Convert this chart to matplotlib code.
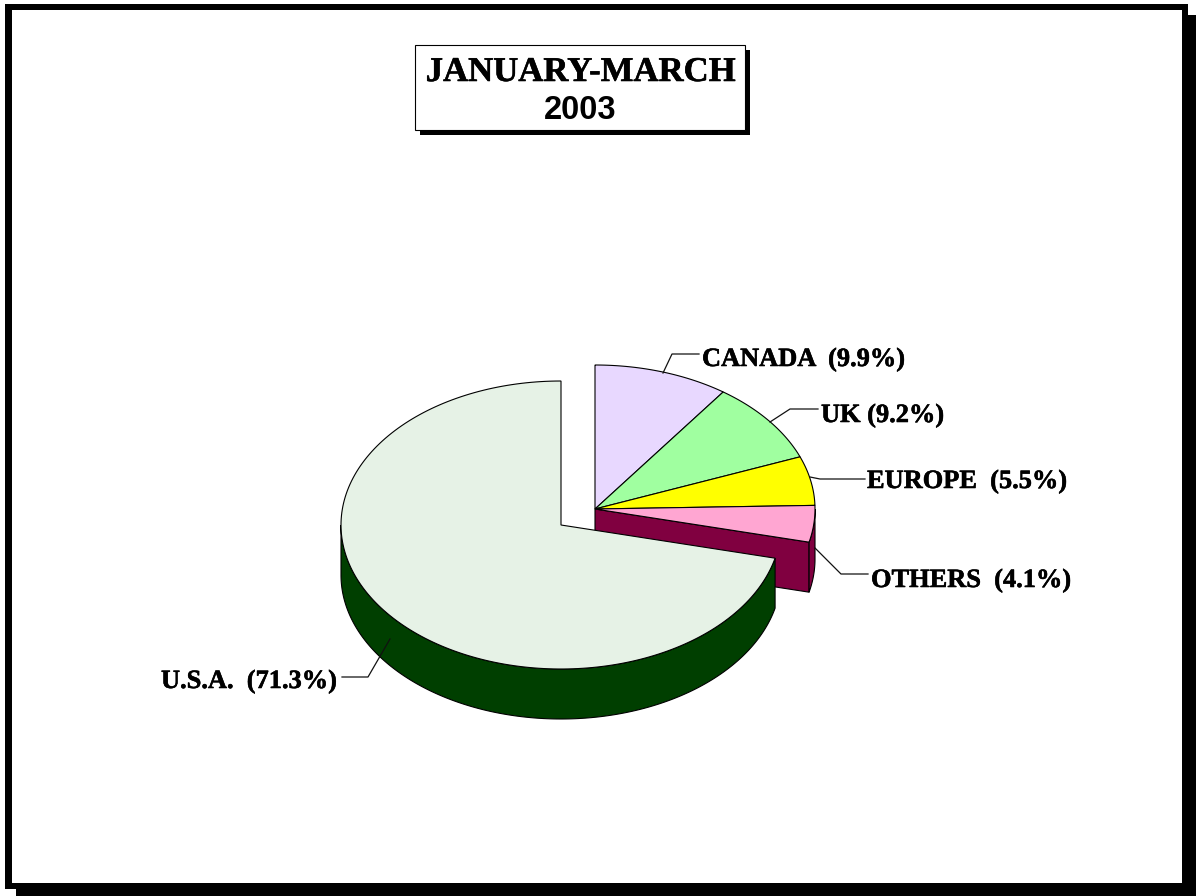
import numpy as np
import matplotlib
matplotlib.use("Agg")
import matplotlib.pyplot as plt
import matplotlib.patheffects as pe
from matplotlib.patches import Polygon, Rectangle

# clockwise from 12 o'clock, same order as the picture
names = ["CANADA", "UK", "EUROPE", "OTHERS", "U.S.A."]
shares = [9.9, 9.2, 5.5, 4.1, 71.3]
top_colors = ["#E8D8FF", "#A0FFA0", "#FFFF00", "#FFA6D2", "#E6F2E6"]
side_colors = ["#800040", "#003F00"]
title_lines = ["JANUARY-MARCH", "2003"]

# pie geometry, pixels
RX, RY, DEPTH = 220, 144, 50
CENTER = (595, 509)
CENTER_USA = (561, 525)

SERIF = "Liberation Serif"
SANS = "Liberation Sans"
HEAVY = [pe.withStroke(linewidth=0.4, foreground="black")]


def rim(center, t0, t1, depth=0):
    # points on the tilted ellipse, t in degrees clockwise from the top
    t = np.radians(np.linspace(t0, t1, 200))
    x = center[0] + RX * np.sin(t)
    y = center[1] - RY * np.cos(t) + depth
    return np.column_stack([x, y])


def add_poly(ax, pts, color):
    ax.add_patch(Polygon(pts, closed=True, facecolor=color, edgecolor="black", linewidth=0.8))


fig = plt.figure(figsize=(11.96, 8.96), dpi=100)
ax = fig.add_axes([0, 0, 1, 1])
ax.set_xlim(0, 1196)
ax.set_ylim(896, 0)
ax.axis("off")

# page frame and its shadow
ax.add_patch(Rectangle((16, 15), 1180, 881, facecolor="black", edgecolor="none"))
ax.add_patch(Rectangle((5, 4), 1183, 885, facecolor="black", edgecolor="none"))
ax.add_patch(Rectangle((12, 10), 1170, 873, facecolor="white", edgecolor="none"))

# title box
ax.add_patch(Rectangle((420, 50), 330, 85, facecolor="black", edgecolor="none"))
ax.add_patch(Rectangle((415, 45), 330, 85, facecolor="white", edgecolor="black", linewidth=0.8))
ax.text(581, 81, title_lines[0], family=SERIF, weight="bold", fontsize=25, ha="center", va="baseline",
        path_effects=HEAVY)
ax.text(580, 119, title_lines[1], family=SANS, weight="bold", fontsize=23.5, ha="center", va="baseline")

edges = np.cumsum([0] + shares) * 3.6

# exploded small slices: cut face and rim of the last one, then the tops
others_t0, others_t1 = edges[3], edges[4]
edge_pt = rim(CENTER, others_t1, others_t1)[0]
add_poly(ax, [CENTER, edge_pt, (edge_pt[0], edge_pt[1] + DEPTH), (CENTER[0], CENTER[1] + DEPTH)], side_colors[0])
add_poly(ax, np.vstack([rim(CENTER, 90, others_t1), rim(CENTER, 90, others_t1, DEPTH)[::-1]]), side_colors[0])
for i in range(4):
    add_poly(ax, np.vstack([[CENTER], rim(CENTER, edges[i], edges[i + 1])]), top_colors[i])

# the big slice in front
add_poly(ax, np.vstack([rim(CENTER_USA, edges[4], 270), rim(CENTER_USA, edges[4], 270, DEPTH)[::-1]]), side_colors[1])
add_poly(ax, np.vstack([[CENTER_USA], rim(CENTER_USA, edges[4], 360)]), top_colors[4])

# leader lines
leaders = [
    [(663, 373), (672, 354), (699, 354)],
    [(770, 422), (790, 409), (818, 409)],
    [(810, 477), (820, 479), (865, 479)],
    [(815, 548), (841, 574), (868, 574)],
    [(390, 639), (368, 677), (342, 677)],
]
for pts in leaders:
    xs, ys = zip(*pts)
    ax.plot(xs, ys, color="#111111", linewidth=0.9)

# labels, baselines
label_pos = [(702, 366), (821, 422), (867, 488), (871, 587), (161, 688)]
gaps = ["  ", " ", "  ", "  ", "  "]
for name, share, gap, (x, y) in zip(names, shares, gaps, label_pos):
    ax.text(x, y, f"{name}{gap}({share}%)", family=SERIF, weight="bold", fontsize=19, ha="left", va="baseline",
            path_effects=HEAVY)

fig.savefig("out.png", dpi=100)
